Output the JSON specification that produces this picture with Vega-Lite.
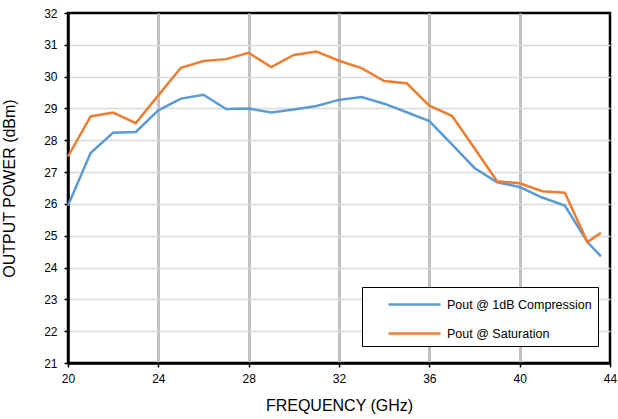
{
  "$schema": "https://vega.github.io/schema/vega-lite/v6.json",
  "width": 542,
  "height": 350,
  "autosize": {"type": "none"},
  "padding": {"left": 68, "top": 13, "right": 8, "bottom": 56},
  "background": "white",
  "data": {
    "values": [
      {"freq": 20, "series": "Pout @ 1dB Compression", "pout": 25.95},
      {"freq": 21, "series": "Pout @ 1dB Compression", "pout": 27.6},
      {"freq": 22, "series": "Pout @ 1dB Compression", "pout": 28.24},
      {"freq": 23, "series": "Pout @ 1dB Compression", "pout": 28.26},
      {"freq": 24, "series": "Pout @ 1dB Compression", "pout": 28.94},
      {"freq": 25, "series": "Pout @ 1dB Compression", "pout": 29.31},
      {"freq": 26, "series": "Pout @ 1dB Compression", "pout": 29.43},
      {"freq": 27, "series": "Pout @ 1dB Compression", "pout": 28.98},
      {"freq": 28, "series": "Pout @ 1dB Compression", "pout": 29.0},
      {"freq": 29, "series": "Pout @ 1dB Compression", "pout": 28.87},
      {"freq": 30, "series": "Pout @ 1dB Compression", "pout": 28.97},
      {"freq": 31, "series": "Pout @ 1dB Compression", "pout": 29.08},
      {"freq": 32, "series": "Pout @ 1dB Compression", "pout": 29.27},
      {"freq": 33, "series": "Pout @ 1dB Compression", "pout": 29.36},
      {"freq": 34, "series": "Pout @ 1dB Compression", "pout": 29.15},
      {"freq": 35, "series": "Pout @ 1dB Compression", "pout": 28.88},
      {"freq": 36, "series": "Pout @ 1dB Compression", "pout": 28.6},
      {"freq": 37, "series": "Pout @ 1dB Compression", "pout": 27.87},
      {"freq": 38, "series": "Pout @ 1dB Compression", "pout": 27.13},
      {"freq": 39, "series": "Pout @ 1dB Compression", "pout": 26.68},
      {"freq": 40, "series": "Pout @ 1dB Compression", "pout": 26.53},
      {"freq": 41, "series": "Pout @ 1dB Compression", "pout": 26.2},
      {"freq": 42, "series": "Pout @ 1dB Compression", "pout": 25.95},
      {"freq": 43, "series": "Pout @ 1dB Compression", "pout": 24.8},
      {"freq": 43.6, "series": "Pout @ 1dB Compression", "pout": 24.35},
      {"freq": 20, "series": "Pout @ Saturation", "pout": 27.49},
      {"freq": 21, "series": "Pout @ Saturation", "pout": 28.75},
      {"freq": 22, "series": "Pout @ Saturation", "pout": 28.87},
      {"freq": 23, "series": "Pout @ Saturation", "pout": 28.54},
      {"freq": 24, "series": "Pout @ Saturation", "pout": 29.41},
      {"freq": 25, "series": "Pout @ Saturation", "pout": 30.28},
      {"freq": 26, "series": "Pout @ Saturation", "pout": 30.49},
      {"freq": 27, "series": "Pout @ Saturation", "pout": 30.55},
      {"freq": 28, "series": "Pout @ Saturation", "pout": 30.75},
      {"freq": 29, "series": "Pout @ Saturation", "pout": 30.3},
      {"freq": 30, "series": "Pout @ Saturation", "pout": 30.68},
      {"freq": 31, "series": "Pout @ Saturation", "pout": 30.79},
      {"freq": 32, "series": "Pout @ Saturation", "pout": 30.5},
      {"freq": 33, "series": "Pout @ Saturation", "pout": 30.27},
      {"freq": 34, "series": "Pout @ Saturation", "pout": 29.86},
      {"freq": 35, "series": "Pout @ Saturation", "pout": 29.79},
      {"freq": 36, "series": "Pout @ Saturation", "pout": 29.09},
      {"freq": 37, "series": "Pout @ Saturation", "pout": 28.77},
      {"freq": 38, "series": "Pout @ Saturation", "pout": 27.75},
      {"freq": 39, "series": "Pout @ Saturation", "pout": 26.71},
      {"freq": 40, "series": "Pout @ Saturation", "pout": 26.65},
      {"freq": 41, "series": "Pout @ Saturation", "pout": 26.4},
      {"freq": 42, "series": "Pout @ Saturation", "pout": 26.35},
      {"freq": 43, "series": "Pout @ Saturation", "pout": 24.8},
      {"freq": 43.6, "series": "Pout @ Saturation", "pout": 25.09}
    ]
  },
  "mark": {"type": "line", "strokeWidth": 2.5},
  "encoding": {
    "x": {
      "field": "freq",
      "type": "quantitative",
      "scale": {"domain": [20, 44], "nice": false, "zero": false},
      "axis": {
        "values": [20, 24, 28, 32, 36, 40, 44],
        "title": "FREQUENCY (GHz)",
        "labelFlush": false,
        "gridColor": {"condition": {"test": "datum.value == 20 || datum.value == 44", "value": "transparent"}, "value": "#c0c0c0"},
        "gridWidth": 3,
        "labelPadding": 6,
        "titlePadding": 13
      }
    },
    "y": {
      "field": "pout",
      "type": "quantitative",
      "scale": {"domain": [21, 32], "nice": false, "zero": false},
      "axis": {
        "values": [21, 22, 23, 24, 25, 26, 27, 28, 29, 30, 31, 32],
        "title": "OUTPUT POWER (dBm)",
        "labelFlush": false,
        "gridColor": {"condition": {"test": "datum.value == 21 || datum.value == 32", "value": "transparent"}, "value": "#d9d9d9"},
        "gridWidth": 1.5,
        "labelPadding": 7,
        "titlePadding": 26
      }
    },
    "color": {
      "field": "series",
      "type": "nominal",
      "scale": {"domain": ["Pout @ 1dB Compression", "Pout @ Saturation"], "range": ["#5B9BD5", "#ED7D31"]},
      "legend": {
        "orient": "none",
        "legendX": 294,
        "legendY": 274,
        "title": null,
        "strokeColor": "black",
        "fillColor": "white",
        "padding": 6,
        "symbolType": "M-2.6,0H2.6",
        "symbolSize": 400,
        "symbolStrokeWidth": 2.5,
        "symbolOffset": 35,
        "labelOffset": 21,
        "rowPadding": 11,
        "labelFontSize": 12.5,
        "labelFont": "Liberation Sans",
        "labelColor": "black",
        "labelLimit": 300
      }
    }
  },
  "config": {
    "font": "Liberation Sans",
    "view": {"stroke": "black", "strokeWidth": 2.5},
    "axis": {
      "labelFont": "Liberation Sans",
      "labelFontSize": 12,
      "labelColor": "black",
      "titleFont": "Liberation Sans",
      "titleFontSize": 16,
      "titleFontWeight": "normal",
      "titleColor": "black",
      "domainColor": "black",
      "domainWidth": 2.5,
      "tickColor": "black",
      "tickWidth": 1.5,
      "tickSize": 4
    }
  }
}
